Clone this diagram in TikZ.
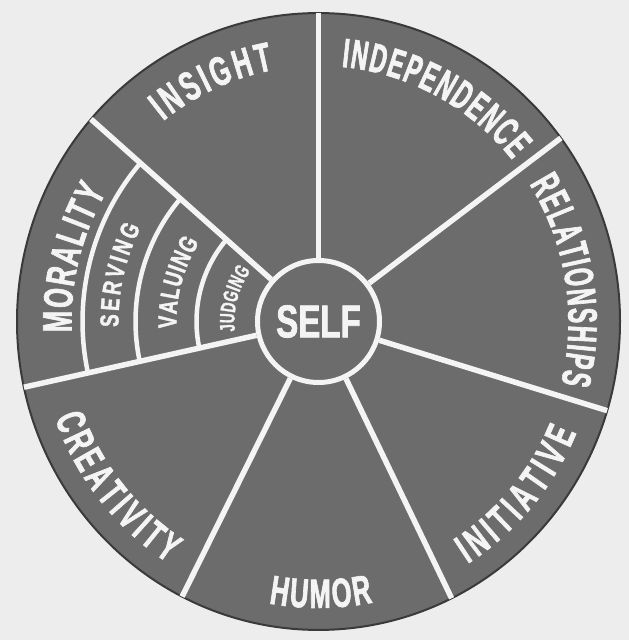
\documentclass[tikz,border=0pt]{standalone}
\usepackage{fontspec}
\usetikzlibrary{decorations.text}
\newfontfamily\outerfam{Liberation Sans}[FakeStretch=0.56,FakeBold=1.6]
\newfontfamily\outerwide{Liberation Sans}[FakeStretch=0.62,FakeBold=1.6]
\newfontfamily\innerfam{Liberation Sans}[FakeStretch=0.72,FakeBold=1.5]
\newfontfamily\innersmall{Liberation Sans}[FakeStretch=0.64,FakeBold=1.5]
\newfontfamily\selffam{Liberation Sans}[FakeStretch=0.72,FakeBold=1.6]
\newcommand\fOut{\outerfam\bfseries\fontsize{41}{41}\selectfont}
\newcommand\fOutW{\outerwide\bfseries\fontsize{41}{41}\selectfont}
\newcommand\fIn{\innerfam\bfseries\fontsize{26}{26}\selectfont}
\newcommand\fInS{\innersmall\bfseries\fontsize{21}{21}\selectfont}
\definecolor{bgcol}{HTML}{EDEDED}
\definecolor{discgray}{HTML}{6C6C6C}
\definecolor{discedge}{HTML}{3A3A3A}
\definecolor{linecol}{HTML}{F4F4F4}
\definecolor{txtcol}{HTML}{F4F4F4}
\tikzset{
  spoke/.style={draw=linecol, line width=5.5pt},
  ringline/.style={draw=linecol, line width=4.5pt},
  curvelabel/.style={decorate, decoration={text along path, text={#1}, text align={fit to path}, text color=txtcol}},
  selfnode/.style={circle, inner sep=0pt, minimum size=122pt, fill=discgray, draw=linecol, line width=5pt, text=txtcol, font=\selffam\bfseries\fontsize{46}{46}\selectfont}
}
\begin{document}
\begin{tikzpicture}[x=1pt,y=1pt]
\useasboundingbox (0,0) rectangle (629,640);
\fill[bgcol] (0,0) rectangle (629,640);
\begin{scope}[shift={(318.5,318.5)}, yscale=1.023]
  % disc
  \fill[discgray, draw=discedge, line width=2pt] (0,0) circle[radius=301.5];
  % outer end points of spokes
  \coordinate (o1) at (90:301.5);
  \coordinate (o2) at (36.5:301.5);
  \coordinate (o3) at (-16.8:301.5);
  \coordinate (o4) at (-63.8:301.5);
  \coordinate (o5) at (243.1:301.5);
  \coordinate (o6) at (192.3:301.5);
  \coordinate (o7) at (139:301.5);
  % morality rings
  \draw[ringline] (139:236) arc[start angle=139, end angle=192.3, radius=236];
  \draw[ringline] (139:183) arc[start angle=139, end angle=192.3, radius=183];
  \draw[ringline] (139:122) arc[start angle=139, end angle=192.3, radius=122];
  % centre
  \node[selfnode] (self) at (0,0) {SELF};
  % spokes
  \foreach \k in {1,...,7} { \draw[spoke] (self) -- (o\k); }
  % outer labels, clockwise (tops outward)
  \path[curvelabel={|\fOutW|INSIGHT}] (128.4:250) arc[start angle=128.4, end angle=100.4, radius=250];
  \path[curvelabel={|\fOut|INDEPENDENCE}] (84.7:250) arc[start angle=84.7, end angle=39.2, radius=250];
  \path[curvelabel={|\fOut|RELATIONSHIPS}] (32.5:250) arc[start angle=32.5, end angle=-14, radius=250];
  \path[curvelabel={|\fOutW|MORALITY}] (182.4:247) arc[start angle=182.4, end angle=149.2, radius=247];
  % outer labels, counter-clockwise (tops inward)
  \path[curvelabel={|\fOutW|HUMOR}] (259.8:280) arc[start angle=259.8, end angle=281.2, radius=280];
  \path[curvelabel={|\fOutW|INITIATIVE}] (302.2:280) arc[start angle=302.2, end angle=337.1, radius=280];
  \path[curvelabel={|\fOutW|CREATIVITY}] (199.7:280) arc[start angle=199.7, end angle=237.5, radius=280];
  % inner labels of morality
  \path[curvelabel={|\fIn|SERVING}] (181.5:200) arc[start angle=181.5, end angle=152.7, radius=200];
  \path[curvelabel={|\fIn|VALUING}] (182.6:142) arc[start angle=182.6, end angle=147, radius=142];
  \path[curvelabel={|\fInS|JUDGING}] (186.5:84) arc[start angle=186.5, end angle=143.8, radius=84];
\end{scope}
\end{tikzpicture}
\end{document}
